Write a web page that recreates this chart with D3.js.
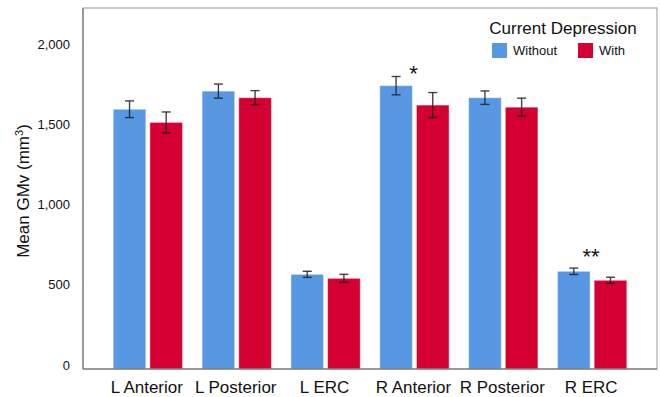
<!DOCTYPE html>
<html>
<head>
<meta charset="utf-8">
<script src="https://cdn.jsdelivr.net/npm/d3@7"></script>
<style>
  body { margin: 0; background: #fff; }
  text { font-family: "Liberation Sans", Arial, sans-serif; fill: #111; }
</style>
</head>
<body>
<div id="chart"></div>
<script>
// data
const regions = ['L Anterior', 'L Posterior', 'L ERC', 'R Anterior', 'R Posterior', 'R ERC']
const groups = ['Without', 'With']
const withoutMean = [1594, 1707, 565, 1741, 1666, 584]
const withoutSE = [52, 44, 19, 57, 42, 20]
const withMean = [1512, 1666, 540, 1620, 1607, 528]
const withSE = [65, 44, 25, 78, 56, 19]
const sigLabels = ['', '', '', '*', '', '**']
const sigLevel = [0, 0, 0, 1776, 0, 636]
const yTicks = [0, 500, 1000, 1500, 2000]

const colors = {Without: '#5898e3', With: '#d50032'}

const W = 660, H = 397
const margin = {top: 8, right: 3, bottom: 28, left: 83}
const width = W - margin.left - margin.right
const height = H - margin.top - margin.bottom

const svg = d3.select('#chart').append('svg')
    .attr('width', W)
    .attr('height', H)

const g = svg.append('g')
    .attr('transform', `translate(${margin.left},${margin.top})`)

const x0 = d3.scaleBand()
    .domain(regions)
    .range([0, width])
    .paddingInner(0.22)
    .paddingOuter(0.34)
const x1 = d3.scaleBand()
    .domain(groups)
    .range([0, x0.bandwidth()])
    .paddingInner(0.11)
const y = d3.scaleLinear()
    .domain([-25, 2225])
    .range([height, 0])

const rows = regions.map((r, i) => ({
    region: r,
    bars: [
        {key: 'Without', mean: withoutMean[i], se: withoutSE[i]},
        {key: 'With', mean: withMean[i], se: withSE[i]}
    ]
}))

// y tick labels
g.append('g')
    .selectAll('text')
    .data(yTicks)
    .join('text')
    .attr('x', -13)
    .attr('y', d => y(d))
    .attr('dy', '0.36em')
    .attr('text-anchor', 'end')
    .style('font-size', '13px')
    .text(d => d3.format(',')(d))

// bars
const grp = g.selectAll('.grp')
    .data(rows)
    .join('g')
    .attr('class', 'grp')
    .attr('transform', d => `translate(${x0(d.region)},0)`)

grp.selectAll('rect')
    .data(d => d.bars)
    .join('rect')
    .attr('x', d => x1(d.key))
    .attr('width', x1.bandwidth())
    .attr('y', d => y(d.mean))
    .attr('height', d => height - y(d.mean))
    .attr('fill', d => colors[d.key])
    .attr('stroke', 'rgba(255,255,255,0.45)')
    .attr('stroke-width', 1)

// error bars
const err = grp.selectAll('.err')
    .data(d => d.bars)
    .join('g')
    .attr('class', 'err')
    .attr('stroke', '#222')
    .attr('stroke-opacity', 0.85)
    .attr('stroke-width', 1.4)
err.append('line')
    .attr('x1', d => x1(d.key) + x1.bandwidth() / 2)
    .attr('x2', d => x1(d.key) + x1.bandwidth() / 2)
    .attr('y1', d => y(d.mean + d.se))
    .attr('y2', d => y(d.mean - d.se))
err.selectAll('.cap')
    .data(d => [d.mean + d.se, d.mean - d.se].map(v => ({v, cx: x1(d.key) + x1.bandwidth() / 2})))
    .join('line')
    .attr('class', 'cap')
    .attr('x1', d => d.cx - 4.5)
    .attr('x2', d => d.cx + 4.5)
    .attr('y1', d => y(d.v))
    .attr('y2', d => y(d.v))

// significance stars
g.append('g')
    .selectAll('text')
    .data(regions.filter((r, i) => sigLabels[i]))
    .join('text')
    .attr('x', r => x0(r) + x0.bandwidth() / 2 - 1)
    .attr('y', r => y(sigLevel[regions.indexOf(r)]) + 1)
    .attr('text-anchor', 'middle')
    .style('font-size', '22px')
    .text(r => sigLabels[regions.indexOf(r)])

// frame
g.append('rect')
    .attr('x', 0)
    .attr('y', 0)
    .attr('width', width)
    .attr('height', height)
    .attr('fill', 'none')
    .attr('stroke', '#999')
g.append('path')
    .attr('d', `M0,0V${height}H${width}`)
    .attr('fill', 'none')
    .attr('stroke', '#666')

// x labels
g.append('g')
    .selectAll('text')
    .data(regions)
    .join('text')
    .attr('x', d => x0(d) + x0.bandwidth() / 2 - 1)
    .attr('y', height + 24)
    .attr('text-anchor', 'middle')
    .style('font-size', '17px')
    .text(d => d)

// y title
const yt = svg.append('text')
    .attr('transform', `translate(29,${191}) rotate(-90)`)
    .attr('text-anchor', 'middle')
    .style('font-size', '17px')
yt.append('tspan').text('Mean GMv (mm')
yt.append('tspan').attr('dy', -6).style('font-size', '11px').text('3')
yt.append('tspan').attr('dy', 6).text(')')

// legend
const legend = svg.append('g')
legend.append('text')
    .attr('x', 563)
    .attr('y', 34)
    .attr('text-anchor', 'middle')
    .style('font-size', '17px')
    .text('Current Depression')
const item = legend.selectAll('.item')
    .data(groups)
    .join('g')
    .attr('class', 'item')
    .attr('transform', (d, i) => `translate(${492 + i * 86},43)`)
item.append('rect')
    .attr('width', 15)
    .attr('height', 15)
    .attr('fill', d => colors[d])
item.append('text')
    .attr('x', 21)
    .attr('y', 12)
    .style('font-size', '13px')
    .text(d => d)
</script>
</body>
</html>
